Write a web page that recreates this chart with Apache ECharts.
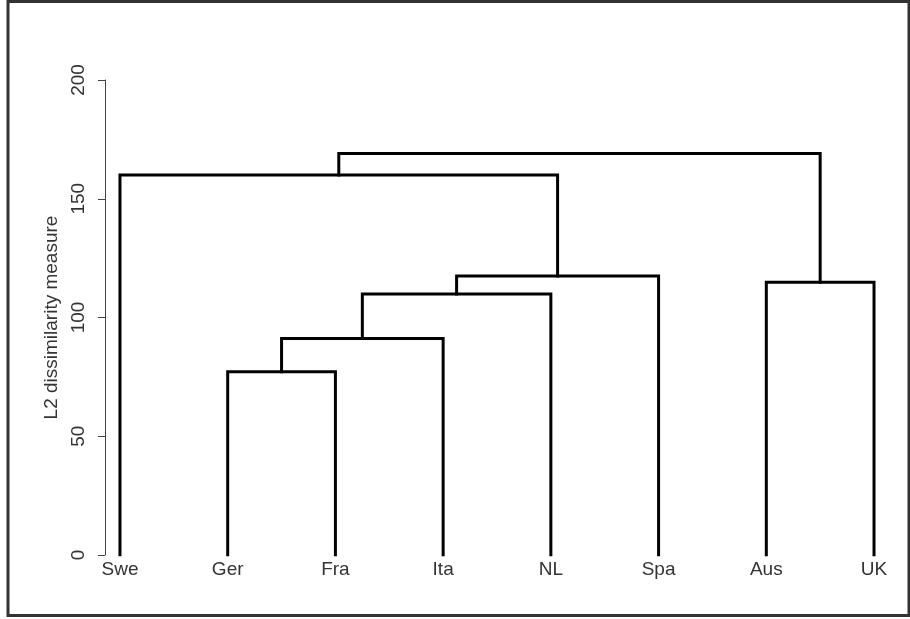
<!DOCTYPE html>
<html>
<head>
<meta charset="utf-8">
<script src="https://cdn.jsdelivr.net/npm/echarts@6/dist/echarts.min.js"></script>
<style>
html,body{margin:0;padding:0;background:#fff;}
#chart{width:910px;height:619px;}
</style>
</head>
<body>
<div id="chart"></div>
<script>
// Leaves in dendrogram order
var leaves = ['Swe', 'Ger', 'Fra', 'Ita', 'NL', 'Spa', 'Aus', 'UK'];
// Merge table (hclust style): negative = leaf (1-based), positive = earlier merge row
var mergeLeft  = [-2, 1, 2, -7, 3, -1, 6];
var mergeRight = [-3, -4, -5, -8, -6, 5, 4];
var mergeHeight = [77.2, 91.2, 109.9, 114.8, 117.5, 160.0, 169.1];
var yTicks = [0, 50, 100, 150, 200];

var FONT = "'Liberation Sans Narrow', 'Arial Narrow', 'Liberation Sans', Arial, sans-serif";

// compute node positions from the merge table
var nodeX = [], nodeY = [];
function pos(ref) {
  if (ref < 0) return [-ref, 0];
  return [nodeX[ref - 1], nodeY[ref - 1]];
}
var series = [];
for (var i = 0; i < mergeHeight.length; i++) {
  var a = pos(mergeLeft[i]), b = pos(mergeRight[i]), h = mergeHeight[i];
  nodeX.push((a[0] + b[0]) / 2);
  nodeY.push(h);
  series.push({
    type: 'line',
    data: [[a[0], a[1]], [a[0], h], [b[0], h], [b[0], b[1]]],
    symbol: 'none',
    silent: true,
    animation: false,
    lineStyle: { color: '#000', width: 3, join: 'miter', cap: 'square' }
  });
}

var chart = echarts.init(document.getElementById('chart'), null, { renderer: 'canvas' });
chart.setOption({
  animation: false,
  backgroundColor: '#fff',
  grid: { left: 105, top: 80, bottom: 64, right: 21, containLabel: false },
  xAxis: {
    type: 'value',
    min: 0.861,
    max: 8.139,
    axisLine: { show: false },
    axisTick: { show: false },
    splitLine: { show: false },
    axisLabel: {
      customValues: leaves.map(function (_, i) { return i + 1; }),
      formatter: function (v) { return leaves[Math.round(v) - 1] || ''; },
      color: '#333',
      fontFamily: FONT,
      fontSize: 19,
      margin: 5
    }
  },
  yAxis: {
    type: 'value',
    min: 0,
    max: 200,
    interval: 50,
    name: 'L2 dissimilarity measure',
    nameLocation: 'middle',
    nameRotate: 90,
    nameGap: 41,
    nameTextStyle: { color: '#333', fontFamily: FONT, fontSize: 19 },
    axisLine: { show: true, lineStyle: { color: '#444', width: 1 } },
    axisTick: { show: true, length: 7, lineStyle: { color: '#444', width: 1 } },
    splitLine: { show: false },
    axisLabel: {
      rotate: 90,
      color: '#333',
      fontFamily: FONT,
      fontSize: 19,
      margin: 17,
      customValues: yTicks
    }
  },
  graphic: [{
    type: 'rect',
    shape: { x: 8, y: 1.5, width: 901, height: 614 },
    style: { fill: 'none', stroke: '#333', lineWidth: 3 },
    silent: true
  }],
  series: series
});
</script>
</body>
</html>
